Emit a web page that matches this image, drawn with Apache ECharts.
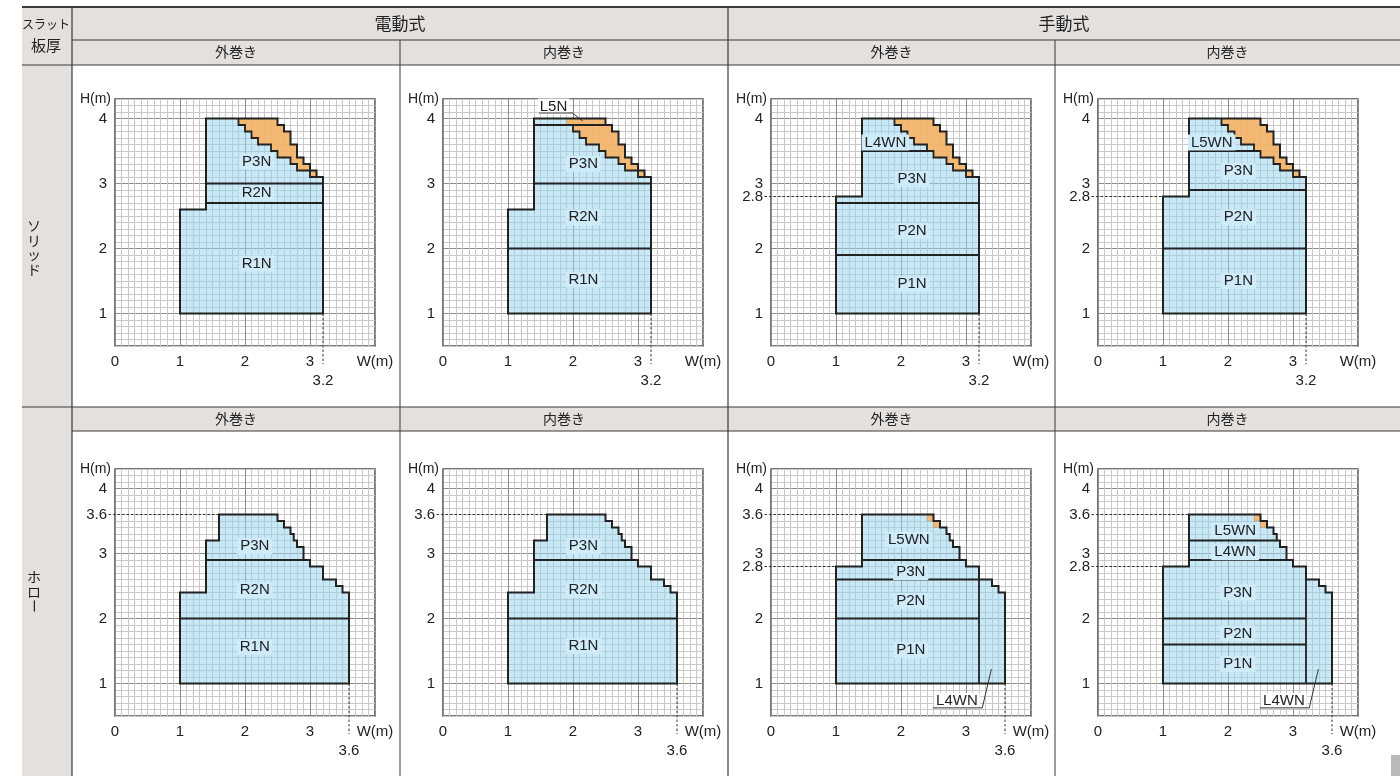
<!DOCTYPE html>
<html><head><meta charset="utf-8">
<script src="https://cdn.jsdelivr.net/npm/echarts@6/dist/echarts.min.js"></script>
<style>html,body{margin:0;padding:0;background:#fff}#c{width:1400px;height:776px}</style>
</head><body><div id="c"></div>
<script>
// ================= DATA =================
// axis tick labels
const xTickLabels = [0, 1, 2, 3];
const yTickLabels = [1, 2, 3, 4];
const xAxisName = 'W(m)';
const yAxisName = 'H(m)';

// table headers
const cornerHeader = ['スラット', '板厚'];
const driveTypes = ['電動式', '手動式'];
const windTypes = ['外巻き', '内巻き', '外巻き', '内巻き'];
const slatTypes = ['ソリッド', 'ホロー'];

// ---- solid slat (top row) : outline vertices (W, H) in metres ----
const solidElecBase = [[1.0,1.0],[1.0,2.6],[1.4,2.6],[1.4,4.0]];
const solidManBase  = [[1.0,1.0],[1.0,2.8],[1.4,2.8],[1.4,4.0]];
const solidStair = [[2.5,4.0],[2.5,3.9],[2.6,3.9],[2.6,3.8],[2.7,3.8],[2.7,3.6],[2.8,3.6],[2.8,3.4],[2.9,3.4],[2.9,3.3],[3.0,3.3],[3.0,3.2],[3.1,3.2],[3.1,3.1],[3.2,3.1],[3.2,1.0]];
const solidInnerStair = [[1.9,4.0],[1.9,3.9],[2.0,3.9],[2.0,3.8],[2.1,3.8],[2.1,3.7],[2.2,3.7],[2.2,3.6],[2.4,3.6],[2.4,3.5],[2.5,3.5],[2.5,3.4],[2.7,3.4],[2.7,3.3],[2.8,3.3],[2.8,3.2],[3.0,3.2],[3.0,3.1],[3.1,3.1]];

// ---- hollow slat (bottom row) ----
const hollowElecBase = [[1.0,1.0],[1.0,2.4],[1.4,2.4],[1.4,3.2],[1.6,3.2],[1.6,3.6]];
const hollowManBase  = [[1.0,1.0],[1.0,2.8],[1.4,2.8],[1.4,3.6]];
const hollowStair = [[2.5,3.6],[2.5,3.5],[2.6,3.5],[2.6,3.4],[2.7,3.4],[2.7,3.3],[2.75,3.3],[2.75,3.2],[2.8,3.2],[2.8,3.1],[2.9,3.1],[2.9,2.9],[3.0,2.9],[3.0,2.8],[3.2,2.8],[3.2,2.6],[3.4,2.6],[3.4,2.5],[3.5,2.5],[3.5,2.4],[3.6,2.4],[3.6,1.0]];
const hollowOrangeCells = [[2.4,3.6],[2.5,3.6],[2.5,3.5],[2.6,3.5],[2.6,3.4],[2.5,3.4],[2.5,3.5],[2.4,3.5]];

// ---- division lines between models ----
const dividers1 = [[[1.4,3.0],[3.2,3.0]], [[1.4,2.7],[3.2,2.7]]];
const dividers2 = [[[1.4,3.9],[2.6,3.9]], [[1.4,3.0],[3.2,3.0]], [[1.0,2.0],[3.2,2.0]]];
const dividers3 = [[[1.4,3.5],[2.5,3.5]], [[1.0,2.7],[3.2,2.7]], [[1.0,1.9],[3.2,1.9]]];
const dividers4 = [[[1.4,3.5],[2.5,3.5]], [[1.4,2.9],[3.2,2.9]], [[1.0,2.0],[3.2,2.0]]];
const dividers5 = [[[1.4,2.9],[2.9,2.9]], [[1.0,2.0],[3.6,2.0]]];
const dividers6 = [[[1.4,2.9],[2.9,2.9]], [[1.0,2.0],[3.6,2.0]]];
const dividers7 = [[[1.4,2.9],[2.9,2.9]], [[1.0,2.6],[3.2,2.6]], [[1.0,2.0],[3.2,2.0]], [[3.2,1.0],[3.2,2.8]]];
const dividers8 = [[[1.4,3.2],[2.75,3.2]], [[1.4,2.9],[2.9,2.9]], [[1.0,2.0],[3.2,2.0]], [[1.0,1.6],[3.2,1.6]], [[3.2,1.0],[3.2,2.8]]];

// ---- model labels [text, W, H] ----
const labels1 = [['P3N',2.18,3.34],['R2N',2.18,2.85],['R1N',2.18,1.77]];
const labels2 = [['P3N',2.16,3.30],['R2N',2.16,2.48],['R1N',2.16,1.52]];
const labels3 = [['L4WN',1.76,3.63],['P3N',2.17,3.07],['P2N',2.17,2.27],['P1N',2.17,1.45]];
const labels4 = [['L5WN',1.75,3.63],['P3N',2.16,3.19],['P2N',2.16,2.48],['P1N',2.16,1.50]];
const labels5 = [['P3N',2.15,3.11],['R2N',2.15,2.44],['R1N',2.15,1.56]];
const labels6 = [['P3N',2.16,3.11],['R2N',2.16,2.44],['R1N',2.16,1.58]];
const labels7 = [['L5WN',2.12,3.21],['P3N',2.15,2.71],['P2N',2.15,2.27],['P1N',2.15,1.51]];
const labels8 = [['L5WN',2.11,3.35],['L4WN',2.11,3.02],['P3N',2.15,2.40],['P2N',2.15,1.77],['P1N',2.15,1.30]];

// ---- callout labels [text, textW, textH, leader polyline] ----
const callout2 = ['L5N', 1.70, 4.185, [[1.47,4.085],[1.99,4.085],[2.15,3.96]]];
const callout7 = ['L4WN', 2.86, 0.73, [[2.49,0.625],[3.25,0.625],[3.39,1.22]]];
const callout8 = ['L4WN', 2.86, 0.73, [[2.49,0.625],[3.25,0.625],[3.39,1.22]]];

// ---- reference (dashed) lines and extra tick values ----
const solidMaxW = 3.2, hollowMaxW = 3.6;
const solidStepH = 2.8, hollowMaxH = 3.6, hollowStepH = 2.8;

// ================= BUILD =================
const BLUE = 'rgba(150,210,238,0.52)';
const ORANGE = 'rgba(249,176,94,0.86)';
const LABEL_BG = '#cfeaf8';
const INK = '#222';

function orangeFromStairs(inner, outer) { return inner.concat(outer.slice().reverse()); }
const solidOrange = orangeFromStairs(solidInnerStair, solidStair.slice(0, 14));

const panels = [
  { outline: solidElecBase.concat(solidStair), orange:[solidOrange], inner: solidInnerStair, dividers: dividers1, labels: labels1,
    dashed: [[[solidMaxW,1.0],[solidMaxW,0.22]]], xExtra: solidMaxW, yExtra: [] },
  { outline: solidElecBase.concat(solidStair), orange:[solidOrange], inner: solidInnerStair.slice(2), dividers: dividers2, labels: labels2,
    dashed: [[[solidMaxW,1.0],[solidMaxW,0.22]]], xExtra: solidMaxW, yExtra: [], callout: callout2 },
  { outline: solidManBase.concat(solidStair), orange:[solidOrange], inner: solidInnerStair, dividers: dividers3, labels: labels3,
    dashed: [[[solidMaxW,1.0],[solidMaxW,0.22]], [[-0.1,solidStepH],[1.0,solidStepH]]], xExtra: solidMaxW, yExtra: [solidStepH] },
  { outline: solidManBase.concat(solidStair), orange:[solidOrange], inner: solidInnerStair, dividers: dividers4, labels: labels4,
    dashed: [[[solidMaxW,1.0],[solidMaxW,0.22]], [[-0.1,solidStepH],[1.0,solidStepH]]], xExtra: solidMaxW, yExtra: [solidStepH] },
  { outline: hollowElecBase.concat(hollowStair), orange:[], inner: null, dividers: dividers5, labels: labels5,
    dashed: [[[hollowMaxW,1.0],[hollowMaxW,0.22]], [[-0.1,hollowMaxH],[1.6,hollowMaxH]]], xExtra: hollowMaxW, yExtra: [hollowMaxH] },
  { outline: hollowElecBase.concat(hollowStair), orange:[], inner: null, dividers: dividers6, labels: labels6,
    dashed: [[[hollowMaxW,1.0],[hollowMaxW,0.22]], [[-0.1,hollowMaxH],[1.6,hollowMaxH]]], xExtra: hollowMaxW, yExtra: [hollowMaxH] },
  { outline: hollowManBase.concat(hollowStair), orange:[hollowOrangeCells], inner: null, dividers: dividers7, labels: labels7,
    dashed: [[[hollowMaxW,1.0],[hollowMaxW,0.22]], [[-0.1,hollowMaxH],[1.4,hollowMaxH]], [[-0.1,hollowStepH],[1.0,hollowStepH]]], xExtra: hollowMaxW, yExtra: [hollowMaxH, hollowStepH], callout: callout7 },
  { outline: hollowManBase.concat(hollowStair), orange:[hollowOrangeCells], inner: null, dividers: dividers8, labels: labels8,
    dashed: [[[hollowMaxW,1.0],[hollowMaxW,0.22]], [[-0.1,hollowMaxH],[1.4,hollowMaxH]], [[-0.1,hollowStepH],[1.0,hollowStepH]]], xExtra: hollowMaxW, yExtra: [hollowMaxH, hollowStepH], callout: callout8 }
];

// layout
const gridLefts = [115, 443, 771, 1098];
const gridTops = [99, 469];
const GW = 260, GH = 247;

const MINOR = '#c9c9c9', MAJOR = '#8c8c8c';
const xGridColors = [MAJOR, MINOR, MINOR, MINOR, MINOR, MINOR, MINOR, MINOR, MINOR, MINOR];
const yGridColors = [MINOR, MINOR, MINOR, MINOR, MINOR, MAJOR, MINOR, MINOR, MINOR, MINOR];
const NUM_FONT = 'Liberation Sans';
const r1 = v => Math.round(v * 100) / 100;

const grids = [], xAxes = [], yAxes = [], series = [];
panels.forEach((p, i) => {
  const row = Math.floor(i / 4), col = i % 4;
  grids.push({ left: gridLefts[col], top: gridTops[row], width: GW, height: GH, show: true, borderColor: '#4a4a4a', borderWidth: 1.5, backgroundColor: 'transparent', containLabel: false });
  xAxes.push({
    gridIndex: i, type: 'value', min: 0, max: 4, interval: 0.1,
    axisLine: { show: false }, axisTick: { show: false },
    splitLine: { show: true, lineStyle: { color: xGridColors, width: 1 } },
    axisLabel: {
      margin: 8, fontSize: 15, color: INK, fontFamily: NUM_FONT,
      formatter: v => {
        const r = r1(v);
        if (xTickLabels.includes(r)) return String(r);
        if (r === 4) return xAxisName;
        if (r === p.xExtra) return '{low|' + r + '}';
        return '';
      },
      rich: { low: { padding: [19, 0, 0, 0], fontSize: 15, color: INK, fontFamily: NUM_FONT } }
    }
  });
  yAxes.push({
    gridIndex: i, type: 'value', min: 0.5, max: 4.3, interval: 0.1,
    axisLine: { show: false }, axisTick: { show: false },
    splitLine: { show: true, lineStyle: { color: yGridColors, width: 1 } },
    axisLabel: {
      margin: 8, fontSize: 15, color: INK, fontFamily: NUM_FONT,
      formatter: v => {
        const r = r1(v);
        if (yTickLabels.includes(r)) return String(r);
        if (p.yExtra.includes(r)) return String(r);
        if (r === 4.3) return '{nm|' + yAxisName + '}';
        return '';
      },
      rich: { nm: { fontSize: 14, color: INK, fontFamily: NUM_FONT, padding: [0, -4, 0, 0] } }
    }
  });
  series.push({
    type: 'custom', xAxisIndex: i, yAxisIndex: i, data: [[0, 0]], clip: false, silent: true, animation: false, z: 5,
    renderItem: (params, api) => {
      const pt = d => api.coord(d);
      const pts = arr => arr.map(pt);
      const ch = [];
      ch.push({ type: 'polygon', shape: { points: pts(p.outline) }, style: { fill: BLUE } });
      p.orange.forEach(o => ch.push({ type: 'polygon', shape: { points: pts(o) }, style: { fill: ORANGE, stroke: 'rgba(120,70,20,0.3)', lineWidth: 0.6 } }));
      if (p.inner) ch.push({ type: 'polyline', shape: { points: pts(p.inner) }, style: { fill: null, stroke: INK, lineWidth: 1.8 } });
      p.dividers.forEach(d => ch.push({ type: 'polyline', shape: { points: pts(d) }, style: { fill: null, stroke: INK, lineWidth: 1.8 } }));
      ch.push({ type: 'polygon', shape: { points: pts(p.outline) }, style: { fill: null, stroke: INK, lineWidth: 2 } });
      p.dashed.forEach(d => ch.push({ type: 'polyline', shape: { points: pts(d) }, style: { fill: null, stroke: '#333', lineWidth: 1, lineDash: [2.5, 2] } }));
      p.labels.forEach(l => {
        const c = pt([l[1], l[2]]);
        ch.push({ type: 'text', x: c[0], y: c[1], style: { text: l[0], font: '15px "Liberation Sans"', fill: INK, align: 'center', verticalAlign: 'middle', backgroundColor: LABEL_BG, padding: [1, 3, 0, 3] } });
      });
      if (p.callout) {
        const [t, tx, ty, lead] = p.callout;
        const c = pt([tx, ty]);
        ch.push({ type: 'text', x: c[0], y: c[1], style: { text: t, font: '15px "Liberation Sans"', fill: INK, align: 'center', verticalAlign: 'middle', backgroundColor: '#fff', padding: [1, 2, 0, 2] } });
        ch.push({ type: 'polyline', shape: { points: pts(lead) }, style: { fill: null, stroke: '#333', lineWidth: 1 } });
      }
      return { type: 'group', children: ch };
    }
  });
});

// ---- table frame (graphic) ----
const HBG = '#e4e0dd', LINE_D = '#3a3a3a';
const CJK = '"Noto Sans CJK JP"';
const G = [];
G.push({ type: 'rect', shape: { x: 22, y: 7, width: 1378, height: 58 }, style: { fill: HBG } });
G.push({ type: 'rect', shape: { x: 22, y: 65, width: 50, height: 711 }, style: { fill: HBG } });
G.push({ type: 'rect', shape: { x: 72, y: 407, width: 1328, height: 24 }, style: { fill: HBG } });
const hl = (x1, x2, y, c, w) => G.push({ type: 'line', shape: { x1, y1: y, x2, y2: y }, style: { stroke: c, lineWidth: w } });
const vl = (x, y1, y2, c, w) => G.push({ type: 'line', shape: { x1: x, y1, x2: x, y2 }, style: { stroke: c, lineWidth: w } });
hl(22, 1400, 7, LINE_D, 2);
hl(72, 1400, 40, LINE_D, 1);
hl(22, 1400, 65, LINE_D, 1.2);
hl(22, 1400, 407, LINE_D, 1.2);
hl(72, 1400, 431, LINE_D, 1);
vl(72, 7, 776, LINE_D, 1.2);
vl(400, 40, 776, LINE_D, 1);
vl(728, 7, 776, LINE_D, 1.2);
vl(1055, 40, 776, LINE_D, 1);
// header texts
G.push({ type: 'text', x: 46, y: 24, style: { text: cornerHeader[0], font: '12px ' + CJK, fill: INK, align: 'center', verticalAlign: 'middle' } });
G.push({ type: 'text', x: 46, y: 45, style: { text: cornerHeader[1], font: '15px ' + CJK, fill: INK, align: 'center', verticalAlign: 'middle' } });
const driveCenters = [400, 1064];
driveTypes.forEach((t, k) => G.push({ type: 'text', x: driveCenters[k], y: 24, style: { text: t, font: '17px ' + CJK, fill: INK, align: 'center', verticalAlign: 'middle' } }));
const windCenters = [236, 564, 891.5, 1227.5];
[52, 419].forEach(yy => windTypes.forEach((t, k) => G.push({ type: 'text', x: windCenters[k], y: yy, style: { text: t, font: '14px ' + CJK, fill: INK, align: 'center', verticalAlign: 'middle' } })));
// vertical slat type texts
const slatTop = [226, 577];
slatTypes.forEach((t, k) => {
  Array.from(t).forEach((chh, j) => {
    const y = slatTop[k] + j * 14.5;
    const isBar = chh === 'ー';
    G.push({ type: 'text', x: 34, y: y, rotation: isBar ? -Math.PI / 2 : 0, style: { text: chh, font: '14px ' + CJK, fill: INK, align: 'center', verticalAlign: 'middle' } });
  });
});
G.push({ type: 'rect', shape: { x: 1391, y: 755, width: 9, height: 21 }, style: { fill: '#b9b9b9' } });

const chart = echarts.init(document.getElementById('c'), null, { renderer: 'canvas' });
chart.setOption({
  animation: false,
  backgroundColor: '#fff',
  graphic: { elements: G },
  grid: grids, xAxis: xAxes, yAxis: yAxes, series: series
});
</script></body></html>
